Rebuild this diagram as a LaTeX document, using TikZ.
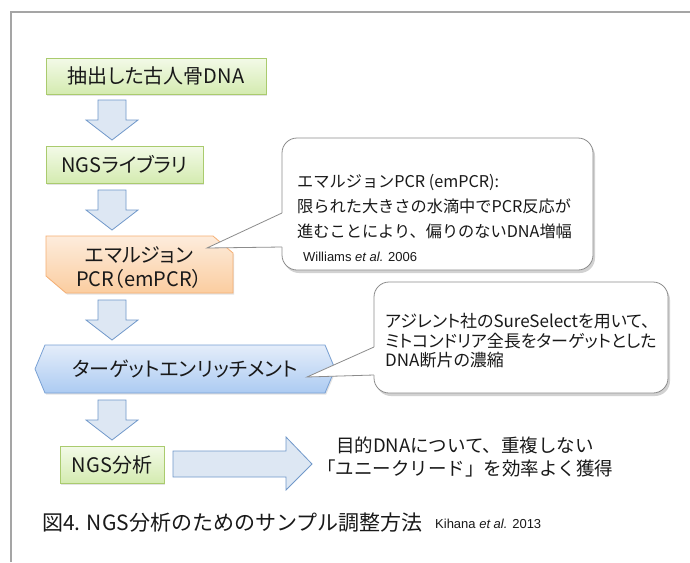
\documentclass[tikz,border=0pt]{standalone}
\usepackage{fontspec}
\setmainfont{Liberation Sans}
\newfontfamily\jpp[RawFeature={+palt}]{Noto Sans CJK JP}
\newfontfamily\jp{Noto Sans CJK JP}
\usetikzlibrary{shadows}
\definecolor{gtop}{RGB}{243,250,232}
\definecolor{gbot}{RGB}{212,235,176}
\definecolor{gline}{RGB}{170,203,110}
\definecolor{otop}{RGB}{253,236,220}
\definecolor{obot}{RGB}{251,205,160}
\definecolor{oline}{RGB}{246,175,115}
\definecolor{btop}{RGB}{228,237,250}
\definecolor{bbot}{RGB}{172,203,242}
\definecolor{bline}{RGB}{120,160,212}
\definecolor{afill}{RGB}{221,231,243}
\definecolor{aline}{RGB}{112,152,202}
\definecolor{framec}{RGB}{165,165,165}
\definecolor{cline}{RGB}{140,140,140}
\definecolor{txt}{RGB}{25,25,25}
\begin{document}
\begin{tikzpicture}[x=1pt,y=-1pt,
  every node/.style={text=txt, inner sep=0pt},
  softshadow/.style={drop shadow={shadow xshift=1.2pt, shadow yshift=-1.5pt, opacity=0.22}},
  greenbox/.style={draw=gline, line width=0.8pt, top color=gtop, bottom color=gbot, softshadow},
  orangebox/.style={draw=oline, line width=0.8pt, top color=otop, bottom color=obot, softshadow},
  bluebox/.style={draw=bline, line width=0.8pt, top color=btop, bottom color=bbot, softshadow},
  blockarrow/.style={draw=aline, fill=afill, line width=0.8pt},
  boxtext/.style={font=\jpp\fontsize{20}{24}\selectfont},
  callout/.style={draw=cline, fill=white, line width=0.8pt, rounded corners=15pt,
    drop shadow={shadow xshift=2pt, shadow yshift=-3pt, opacity=0.35}},
  tailline/.style={draw=cline, line width=0.8pt},
  pics/darr/.style={code={
    \path[blockarrow] (-14,0) -- (14,0) -- (14,20) -- (26,20) -- (0,40) -- (-26,20) -- (-14,20) -- cycle;}}
]
\useasboundingbox[fill=white] (0,0) rectangle (690,562);
% frame
\draw[framec, line width=2pt] (11,562) -- (11,12) -- (690,12);

% box 1
\node[greenbox, minimum width=220pt, minimum height=36pt] (b1) at (156,76) {};
\node[boxtext] (t1) at (b1.center) {抽出した古人骨DNA};
\pic at (112,100) {darr};
% box 2
\node[greenbox, minimum width=157pt, minimum height=37pt] (b2) at (124.5,164.5) {};
\node[boxtext] (t2) at (b2.center) {NGSライブラリ};
\pic at (112,190) {darr};
% box 3
\path[orangebox] (46,236) -- (213,236) -- (233,253) -- (233,293) -- (66,293) -- (46,276) -- cycle;
\node[boxtext, align=center] (b3) at (139,268) {エマルジョン\\PCR（emPCR）};
\pic at (112,300) {darr};
% box 4
\path[bluebox] (45,345) -- (325,345) -- (335,369) -- (325,393) -- (45,393) -- (35,369) -- cycle;
\node[boxtext] (b4) at (185,369) {ターゲットエンリッチメント};
\pic at (112,400) {darr};
% box 5
\node[greenbox, minimum width=104pt, minimum height=37pt] (b5) at (112,464.5) {};
\node[boxtext] (t5) at (b5.center) {NGS分析};

% right arrow
\path[blockarrow] (173,451) -- (286,451) -- (286,437) -- (312,464) -- (286,490) -- (286,477) -- (173,477) -- cycle;
\node[font=\jp\fontsize{18.5}{23}\selectfont, align=center] (res) at (465,456.5) {目的DNAについて、重複しない\\「ユニークリード」を効率よく獲得};

% callout 1
\node[callout, minimum width=311pt, minimum height=132pt] (c1) at (437.5,204) {};
\coordinate (tip1) at (207,248);
\fill[white] (tip1) -- (282,213) -- (283.5,213) -- (283.5,247) -- (282,247) -- cycle;
\draw[tailline] (282,213) -- (tip1) -- (282,247);
\node[anchor=west, align=left, font=\jp\fontsize{16.2}{25}\selectfont] (c1t) at (297,207) {エマルジョンPCR (emPCR):\\限られた大きさの水滴中でPCR反応が\\進むことにより、偏りのないDNA増幅};
\node[anchor=west, font=\fontsize{13}{15}\selectfont] (c1r) at (303,257) {Williams \textit{et al.} 2006};

% callout 2
\node[callout, minimum width=294pt, minimum height=111pt] (c2) at (521,337.5) {};
\coordinate (tip2) at (307,377);
\fill[white] (tip2) -- (374,347) -- (375.5,347) -- (375.5,375) -- (374,375) -- cycle;
\draw[tailline] (374,347) -- (tip2) -- (374,375);
\node[anchor=west, align=left, font=\jpp\fontsize{17}{19.5}\selectfont] (c2t) at (385,341) {アジレント社のSureSelectを用いて、\\ミトコンドリア全長をターゲットとした\\DNA断片の濃縮};

% caption
\node[anchor=west, font=\jp\fontsize{21}{24}\selectfont] (cap) at (42,523) {図4. NGS分析のためのサンプル調整方法};
\node[anchor=west, font=\fontsize{13}{15}\selectfont] (capr) at (435,524) {Kihana \textit{et al.} 2013};
\end{tikzpicture}
\end{document}
